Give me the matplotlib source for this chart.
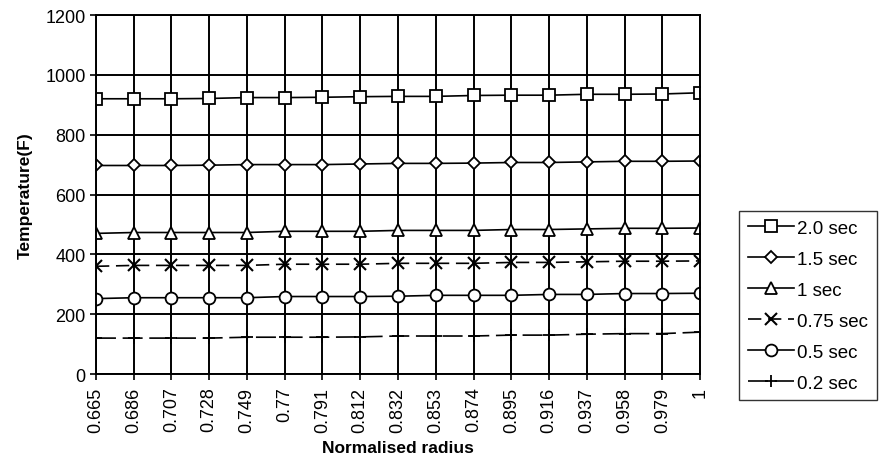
import numpy as np
import matplotlib
matplotlib.use("Agg")
import matplotlib.pyplot as plt

plt.rcParams['font.family'] = ['Liberation Sans', 'DejaVu Sans']

radius_labels = ["0.665", "0.686", "0.707", "0.728", "0.749", "0.77", "0.791", "0.812",
                 "0.832", "0.853", "0.874", "0.895", "0.916", "0.937", "0.958", "0.979", "1"]

temp_2_0 = [920, 920, 920, 921, 924, 924, 925, 927, 928, 928, 931, 932, 932, 935, 935, 936, 940]
temp_1_5 = [697, 697, 697, 698, 700, 700, 700, 702, 704, 704, 705, 707, 707, 709, 711, 711, 712]
temp_1_0 = [470, 473, 473, 473, 473, 477, 477, 477, 480, 480, 480, 483, 483, 485, 487, 487, 488]
temp_0_75 = [360, 363, 363, 363, 363, 367, 367, 367, 370, 370, 370, 373, 373, 375, 377, 377, 378]
temp_0_5 = [252, 255, 255, 255, 255, 259, 259, 259, 260, 263, 263, 263, 266, 266, 269, 269, 270]
temp_0_2 = [120, 120, 120, 120, 123, 123, 123, 124, 127, 127, 127, 130, 130, 133, 135, 135, 140]

x = np.arange(len(radius_labels))

fig = plt.figure(figsize=(8.82, 4.64), dpi=100)
ax = fig.add_axes([0.1088, 0.1918, 0.6849, 0.7737])

# grid first so series sit on top
ax.set_axisbelow(True)
ax.grid(True, color="black", linewidth=1.4)

lw = 1.2
ax.plot(x, temp_2_0, color="black", lw=lw, marker="s", ms=8.5, mfc="white", mec="black", mew=1.3, label="2.0 sec")
ax.plot(x, temp_1_5, color="black", lw=lw, marker="D", ms=6.5, mfc="white", mec="black", mew=1.3, label="1.5 sec")
ax.plot(x, temp_1_0, color="black", lw=lw, marker="^", ms=8.5, mfc="white", mec="black", mew=1.3, label="1 sec")
ax.plot(x, temp_0_75, color="black", lw=lw, linestyle=(0, (8, 4)), marker="x", ms=8.5, mec="black", mew=1.5, label="0.75 sec")
ax.plot(x, temp_0_5, color="black", lw=lw, marker="o", ms=8.5, mfc="white", mec="black", mew=1.3, label="0.5 sec")
ax.plot(x, temp_0_2, color="black", lw=lw, linestyle=(0, (12, 4)), marker="+", ms=8.5, mec="black", mew=1.3, label="0.2 sec")

ax.set_xlim(0, len(radius_labels) - 1)
ax.set_ylim(0, 1200)
ax.set_yticks(np.arange(0, 1201, 200))
ax.set_xticks(x)
ax.set_xticklabels(radius_labels, rotation=90)
ax.tick_params(axis="both", labelsize=13, color="black", length=4, width=1.2)
ax.tick_params(axis="x", pad=5)

for sp in ax.spines.values():
    sp.set_color("black")
    sp.set_linewidth(1.4)

ax.set_xlabel("Normalised radius", fontsize=12.5, fontweight="bold", labelpad=6)
ax.set_ylabel("Temperature(F)", fontsize=12.5, fontweight="bold", labelpad=9)

leg = fig.legend(loc="upper left", bbox_to_anchor=(0.838, 0.543), fontsize=13.5,
                 handlelength=2.5, labelspacing=0.74, handletextpad=0.15,
                 borderpad=0.45, borderaxespad=0, fancybox=False, frameon=True)
leg.get_frame().set_edgecolor("black")
leg.get_frame().set_linewidth(1.0)

fig.savefig("out.png", dpi=100)
